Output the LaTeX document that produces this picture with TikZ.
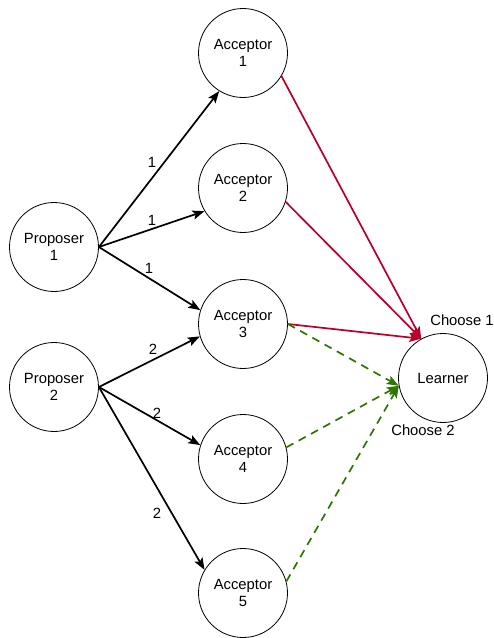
\documentclass[tikz,border=0pt]{standalone}
\usepackage{fontspec}
\setmainfont{Liberation Sans}
\usetikzlibrary{arrows.meta}
\definecolor{crimson}{HTML}{B8002A}
\definecolor{leafgreen}{HTML}{2D7600}
\begin{document}
\begin{tikzpicture}[x=1pt,y=-1pt,
  every node/.style={font=\fontsize{14.8}{17}\selectfont},
  agent/.style={circle, draw, line width=0.8pt, minimum size=89pt, inner sep=0pt, align=center},
  tag/.style={inner sep=0pt},
  tip/.style={-{Stealth[length=12pt,width=9pt,inset=2.5pt]}},
  send/.style={tip, line width=1.7pt},
  accept/.style={tip, line width=1.7pt, draw=crimson, fill=crimson},
  vote/.style={tip, line width=1.7pt, draw=leafgreen, dash pattern=on 8pt off 6pt}]
\useasboundingbox (0,0) rectangle (494,638);

% agents
\node[agent] (p1) at (54,247) {Proposer\\1};
\node[agent] (p2) at (54,387) {Proposer\\2};
\node[agent] (a1) at (243,53)  {Acceptor\\1};
\node[agent] (a2) at (243,188) {Acceptor\\2};
\node[agent] (a3) at (243,324) {Acceptor\\3};
\node[agent] (a4) at (243,459) {Acceptor\\4};
\node[agent] (a5) at (243,593) {Acceptor\\5};
\node[agent] (learner) at (443,378) {Learner};

% prepare/accept requests
\draw[send] (p1.east) -- (a1.238);
\draw[send] (p1.east) -- (a2.211);
\draw[send] (p1.east) -- (a3.162);
\draw[send] (p2.east) -- (a3.196);
\draw[send] (p2.east) -- (a4.162);
\draw[send] (p2.east) -- (a5.149);

% proposal numbers
\node[tag] (n11) at (152,162) {1};
\node[tag] (n12) at (152,220) {1};
\node[tag] (n13) at (149,268) {1};
\node[tag] (n21) at (153,349) {2};
\node[tag] (n22) at (157,413) {2};
\node[tag] (n23) at (157,513) {2};

% accepted values reported to the learner
\draw[accept] (a1.-31) -- (learner.119);
\draw[accept] (a2.-18) -- (learner.119);
\draw[accept] (a3.east) -- (learner.119);
\draw[vote] (a3.east) -- (learner.190);
\draw[vote] (a4.15) -- (learner.190);
\draw[vote] (a5.15) -- (learner.190);

\node[tag] (c1) at (462,320) {Choose 1};
\node[tag] (c2) at (423,430) {Choose 2};
\end{tikzpicture}
\end{document}
